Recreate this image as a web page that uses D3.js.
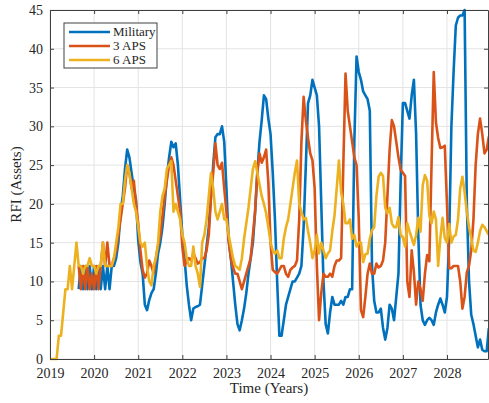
<!DOCTYPE html>
<html>
<head>
<meta charset="utf-8">
<script src="https://cdn.jsdelivr.net/npm/d3@7"></script>
<style>
  body { margin: 0; background: #fff; }
  svg { display: block; font-family: 'Liberation Serif', 'Times New Roman', serif; }
</style>
</head>
<body>
<svg id="chart" width="489" height="403"></svg>
<script>
// ########## DATA (samples every 1/20 year, starting Jan 2019)
const startYear = 2019;
const samplesPerYear = 20;

const seriesNames = ['Military', '3 APS', '6 APS'];
const xTickYears = [2019, 2020, 2021, 2022, 2023, 2024, 2025, 2026, 2027, 2028];
const yTickValues = [0, 5, 10, 15, 20, 25, 30, 35, 40, 45];

// Military
const military = [
  null, null, null, null, null, null, null, null, null, null, null, null, null, 9, 12, 9, 12, 9, 12, 9,
  12, 9, 12, 9, 12, 9, 12, 9, 12, 12, 13, 15, 19, 21, 24.5, 27, 26, 24, 22, 20.5,
  15.3, 12.5, 11, 7, 6.3, 7.6, 8.5, 9, 11, 13.6, 15, 17, 20, 23.5, 26, 28, 27.3, 27.8, 25, 20.5,
  16, 13, 9.5, 7, 5, 6.5, 6.7, 6.8, 7, 9.5, 12, 14.5, 17, 21, 25, 28.6, 29, 29, 30, 28,
  22, 15.3, 13, 10, 7, 4.5, 3.7, 5, 6.5, 8.5, 11, 13, 15, 19, 24, 28, 30.8, 34, 33.5, 31,
  29, 24, 18, 10, 3, 3, 5, 7, 8, 9, 10, 10, 10.5, 11, 12, 17, 25, 33, 34, 36,
  35, 34, 30, 20, 10, 4.5, 3.3, 6, 8, 7, 7, 7, 7.5, 7, 8, 8, 9, 9, 28, 39,
  37, 36, 34.5, 34, 33.5, 32, 12, 7.5, 6, 6, 6.5, 4, 2.5, 4, 7, 6.5, 5, 8, 11, 23,
  33, 33, 32, 31, 34, 36, 29, 16, 7, 5, 4.4, 5, 5.3, 5, 4.4, 6, 7, 7.8, 7, 6,
  8, 15.6, 30, 37, 43, 44, 44.3, 44.3, 45, 20, 10, 5.7, 4.5, 3, 1.5, 2.5, 1.2, 1, 1, 4
];

// 3 APS
const aps3 = [
  null, null, null, null, null, null, null, null, null, null, null, null, null, 12, 9, 12, 9, 12, 9, 11,
  9, 12, 9, 12, 15, 12, 15, 12, 12, 13, 14, 16, 18, 20, 22, 25, 24, 22, 23, 20,
  17.5, 14, 11.5, 10.5, 11, 12.7, 12, 11, 13, 14.6, 16, 18.5, 21, 23, 25, 26, 25, 23, 21, 19,
  14.5, 12, 12.7, 13, 12.7, 13.6, 13, 12.3, 12.5, 13, 13, 14, 16, 21, 24, 27.8, 25, 24.5, 25.3, 22,
  19, 15.3, 13, 11.8, 11, 11, 10, 9, 10, 11, 12, 13, 16, 19, 24, 26.5, 25.3, 26, 27, 22.7,
  15, 11.5, 11.2, 11, 11.5, 12, 12, 11, 10.6, 11.5, 11.8, 12, 12.7, 18, 28, 33.8, 30.8, 28.5, 26.5, 25.6,
  22, 12, 5, 8.5, 11, 10.6, 10.6, 11, 10.6, 12, 12.7, 12.7, 13, 25, 36.8, 32, 30, 28, 26, 25,
  18, 6.3, 5.4, 8, 11, 12.3, 11, 11, 12.3, 11.8, 12, 12.7, 15, 21, 27, 30.8, 30, 28, 26, 24.4,
  24, 23.6, 10, 8, 14, 11.2, 7, 10, 9, 7.5, 11, 13.4, 12.6, 25, 37, 30.5, 28.5, 27.2, 27.3, 27.5,
  20, 11.7, 11.7, 12, 12, 12, 10, 6.5, 8, 11.2, 12, 14, 18, 25, 29, 31, 29, 26.5, 27, 28.7
];

// 6 APS
const aps6 = [
  0, 0, 0, 0, 3, 3, 6, 9, 9, 12, 9, 12, 15, 12, 12, 11, 12, 12, 13, 12,
  12, 11, 12, 12, 15, 12, 12, 12, 12, 13, 15, 17, 20, 20, 23, 25, 24, 22, 20, 19,
  17, 15, 14.5, 15, 12, 10, 9.5, 12, 13, 15, 19, 21, 22, 24.5, 25, 25.5, 19, 20, 19, 18,
  16, 15, 13, 12, 12, 14.5, 12, 11, 9.3, 15, 16, 18, 21, 24, 22, 19, 18, 19, 20, 18,
  18, 16, 14.5, 13, 12, 11.8, 11.5, 13, 15.5, 17.5, 19.5, 22, 24.5, 25.5, 24, 22.5, 21, 20, 18.8, 17,
  15, 14, 13.6, 14, 13, 13, 15.5, 17, 18, 20, 22, 24, 25.6, 20, 19, 18, 18.2, 16.5, 15, 13,
  14, 16, 13.6, 15, 14, 13, 13.6, 14, 16.5, 18.5, 22, 25.6, 21.5, 20, 17.5, 17.5, 18, 15.5, 16, 14.5,
  15, 15, 12.5, 13.5, 13.6, 15.5, 16.6, 17, 21, 23.5, 24, 23.6, 19.5, 18.8, 19.5, 17.5, 17, 17, 18.3, 16,
  15.7, 14.5, 17.5, 16.5, 15.6, 14.7, 16, 18.2, 16.4, 22.4, 23.7, 23, 18.5, 17.5, 19, 18, 12, 15.6, 18.2, 15.6,
  15, 17.4, 15, 15.8, 16, 18, 22, 23.5, 21.5, 19, 17, 15.6, 14, 13.8, 15, 16.5, 17.3, 17, 16.5, 16
];

const seriesValues = [military, aps3, aps6];
const seriesColors = ['#0072BD', '#D95319', '#EDB120'];

// ########## LAYOUT
const margin = { left: 50, top: 10, right: 1, bottom: 44 };
const width = 489;
const height = 403;
const plotRight = width - margin.right;
const plotBottom = height - margin.bottom;

const svg = d3.select('#chart');

const x = d3.scaleLinear().domain([2019, 2028.93]).range([margin.left, plotRight]);
const y = d3.scaleLinear().domain([0, 45]).range([plotBottom, margin.top]);

// clip so lines stay inside the box
svg.append('clipPath').attr('id', 'plotClip')
  .append('rect')
  .attr('x', margin.left).attr('y', margin.top - 2)
  .attr('width', plotRight - margin.left).attr('height', plotBottom - margin.top + 4);

// grid lines
const grid = svg.append('g').attr('class', 'grid');
grid.selectAll('line.vgrid')
  .data(xTickYears)
  .enter()
  .append('line')
  .attr('x1', (d) => x(d)).attr('x2', (d) => x(d))
  .attr('y1', margin.top).attr('y2', plotBottom)
  .attr('stroke', '#e3e3e3').attr('stroke-width', 1);
grid.selectAll('line.hgrid')
  .data(yTickValues)
  .enter()
  .append('line')
  .attr('x1', margin.left).attr('x2', plotRight)
  .attr('y1', (d) => y(d)).attr('y2', (d) => y(d))
  .attr('stroke', '#e3e3e3').attr('stroke-width', 1);

// the series lines
const line = d3.line()
  .defined((d) => d != null)
  .x((d, i) => x(startYear + i / samplesPerYear))
  .y((d) => y(d));

svg.append('g')
  .attr('clip-path', 'url(#plotClip)')
  .selectAll('path.series')
  .data(seriesValues)
  .enter()
  .append('path')
  .attr('fill', 'none')
  .attr('stroke', (d, i) => seriesColors[i])
  .attr('stroke-width', 2.6)
  .attr('stroke-linejoin', 'round')
  .attr('d', line);

// axes, MATLAB style: ticks inward, box all round
const axisColor = '#404040';
const bottomAxis = svg.append('g')
  .attr('transform', `translate(0,${plotBottom})`)
  .call(d3.axisBottom(x).tickValues(xTickYears).tickFormat(d3.format('d')).tickSizeInner(-4).tickSizeOuter(0).tickPadding(9));
const leftAxis = svg.append('g')
  .attr('transform', `translate(${margin.left},0)`)
  .call(d3.axisLeft(y).tickValues(yTickValues).tickSizeInner(-4).tickSizeOuter(0).tickPadding(7));
const topAxis = svg.append('g')
  .attr('transform', `translate(0,${margin.top})`)
  .call(d3.axisTop(x).tickValues(xTickYears).tickFormat('').tickSizeInner(-4).tickSizeOuter(0));
const rightAxis = svg.append('g')
  .attr('transform', `translate(${plotRight},0)`)
  .call(d3.axisRight(y).tickValues(yTickValues).tickFormat('').tickSizeInner(-4).tickSizeOuter(0));

[bottomAxis, leftAxis, topAxis, rightAxis].forEach((ax) => {
  ax.selectAll('path, line').attr('stroke', axisColor);
  ax.selectAll('text')
    .attr('fill', '#262626')
    .style('font-size', '14px')
    .style('font-family', "'Liberation Serif', serif");
});

// axis titles
svg.append('text')
  .attr('x', (margin.left + plotRight) / 2)
  .attr('y', 393)
  .attr('text-anchor', 'middle')
  .attr('fill', '#262626')
  .style('font-size', '15px')
  .text('Time (Years)');

svg.append('text')
  .attr('transform', `translate(21,${(margin.top + plotBottom) / 2}) rotate(-90)`)
  .attr('text-anchor', 'middle')
  .attr('fill', '#262626')
  .style('font-size', '15px')
  .text('RFI (Assets)');

// legend
const legend = svg.append('g').attr('transform', 'translate(64,23)');
legend.append('rect')
  .attr('width', 93).attr('height', 45)
  .attr('fill', '#fff')
  .attr('stroke', axisColor).attr('stroke-width', 1);

const legendRows = legend.selectAll('g.row')
  .data(seriesNames)
  .enter()
  .append('g')
  .attr('transform', (d, i) => `translate(0,${9 + i * 14})`);

legendRows.append('line')
  .attr('x1', 5).attr('x2', 46)
  .attr('stroke', (d, i) => seriesColors[i])
  .attr('stroke-width', 2.6);

legendRows.append('text')
  .attr('x', 49)
  .attr('dy', '0.33em')
  .attr('fill', '#262626')
  .style('font-size', '13px')
  .text((d) => d);
</script>
</body>
</html>
